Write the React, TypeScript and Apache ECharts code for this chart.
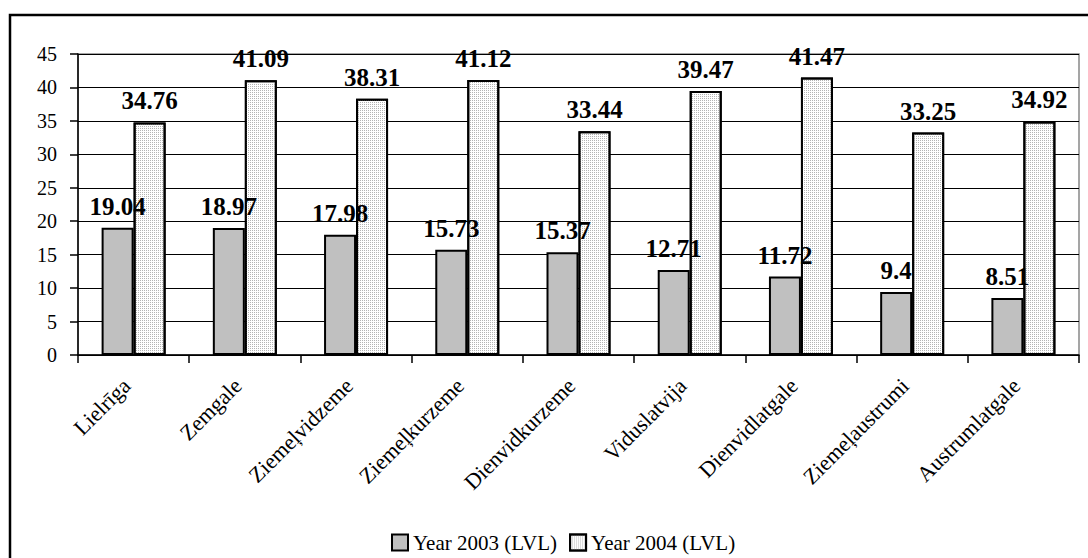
import React, { useEffect, useRef } from "react";
import * as echarts from "echarts";

const categories = [
  "Lielrīga",
  "Zemgale",
  "Ziemeļvidzeme",
  "Ziemeļkurzeme",
  "Dienvidkurzeme",
  "Viduslatvija",
  "Dienvidlatgale",
  "Ziemeļaustrumi",
  "Austrumlatgale",
];
const year2003 = [19.04, 18.97, 17.98, 15.73, 15.37, 12.71, 11.72, 9.4, 8.51];
const year2004 = [34.76, 41.09, 38.31, 41.12, 33.44, 39.47, 41.47, 33.25, 34.92];
const seriesNames = ["Year 2003 (LVL)", "Year 2004 (LVL)"];

const FONT = "Liberation Serif, Times New Roman, serif";

export default function App() {
  const ref = useRef<HTMLDivElement>(null);
  useEffect(() => {
    if (!ref.current) return;
    const chart = echarts.init(ref.current, undefined, { renderer: "svg" });
    const labelStyle = {
      show: true,
      position: "top" as const,
      distance: 9,
      fontFamily: FONT,
      fontSize: 25,
      fontWeight: "bold" as const,
      color: "#000",
    };
    chart.setOption({
      animation: false,
      backgroundColor: "#fff",
      graphic: [
        {
          type: "rect",
          shape: { x: 10, y: 15, width: 1200, height: 700 },
          style: { fill: "none", stroke: "#000", lineWidth: 2.5 },
          silent: true,
        },
      ],
      grid: {
        left: 78,
        top: 54,
        right: 9,
        bottom: 203,
        containLabel: false,
        show: true,
        borderColor: "#888",
        borderWidth: 1.5,
      },
      legend: {
        top: 527,
        left: 386,
        icon: "rect",
        itemWidth: 16,
        itemHeight: 16,
        itemGap: 12,
        textStyle: { fontFamily: FONT, fontSize: 21, color: "#000" },
        data: seriesNames,
      },
      xAxis: {
        type: "category",
        data: categories,
        axisLine: { lineStyle: { color: "#000", width: 1.5 } },
        axisTick: { show: true, length: 8, lineStyle: { color: "#000", width: 1.5 } },
        axisLabel: {
          rotate: 45,
          margin: 20,
          padding: [0, 10, 0, 0],
          fontFamily: FONT,
          fontSize: 22,
          color: "#000",
          interval: 0,
        },
      },
      yAxis: {
        type: "value",
        min: 0,
        max: 45,
        interval: 5,
        axisLine: { show: true, lineStyle: { color: "#000", width: 1.5 } },
        axisTick: { show: true, length: 8, lineStyle: { color: "#000", width: 1.5 } },
        axisLabel: {
          margin: 21,
          fontFamily: FONT,
          fontSize: 20,
          color: "#000",
        },
        splitLine: { lineStyle: { color: "#000", width: 1 } },
      },
      series: [
        {
          name: seriesNames[0],
          type: "bar",
          data: year2003,
          barWidth: 32,
          barGap: "0%",
          itemStyle: { color: "#c0c0c0", borderColor: "#000", borderWidth: 2 },
          label: labelStyle,
        },
        {
          name: seriesNames[1],
          type: "bar",
          data: year2004,
          barWidth: 32,
          barGap: "0%",
          itemStyle: {
            color: "#ffffff",
            borderColor: "#000",
            borderWidth: 2,
            decal: {
              symbol: "rect",
              symbolSize: 1,
              dashArrayX: [1, 1],
              dashArrayY: [1, 1],
              rotation: 0,
              color: "#b4b4b4",
            },
          },
          label: labelStyle,
        },
      ],
    });
    return () => chart.dispose();
  }, []);
  return (
    <div
      ref={ref}
      style={{ position: "fixed", left: 0, top: 0, width: 1088, height: 558 }}
    />
  );
}
